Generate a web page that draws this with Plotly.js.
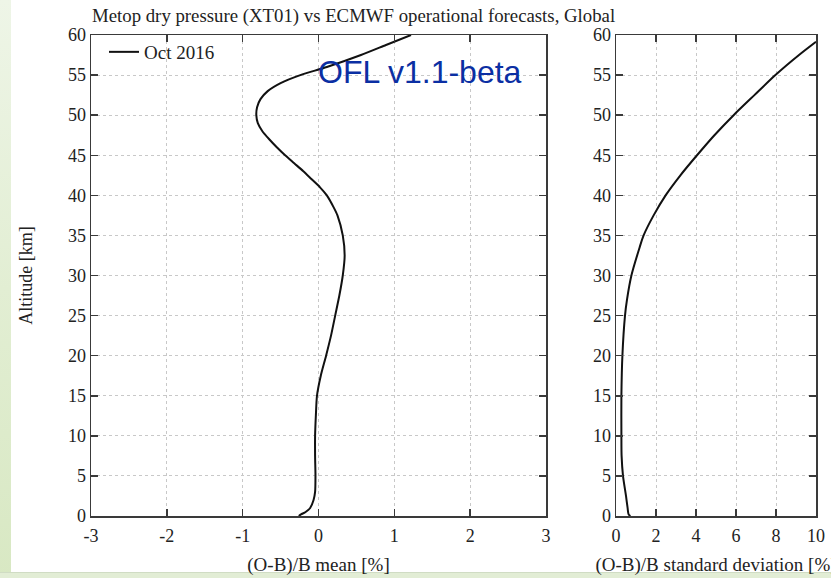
<!DOCTYPE html>
<html>
<head>
<meta charset="utf-8">
<script src="https://cdn.plot.ly/plotly-3.0.1.min.js"></script>
<style>
  html, body { margin: 0; padding: 0; background: #ffffff; }
  #wrap { position: relative; width: 831px; height: 578px; overflow: hidden; background: #ffffff; }
  #leftstrip { position: absolute; left: 0; top: 0; width: 11px; height: 578px;
    background: linear-gradient(to bottom, #eef5e7 0%, #e2eed3 50%, #d8e8c3 100%); }
  #bottomstrip { position: absolute; left: 0; top: 572px; width: 831px; height: 6px;
    background: #e2edd5; border-top: 1px solid #d0dcc4; }
  #chart { position: absolute; left: 0; top: 0; width: 831px; height: 578px; }
</style>
</head>
<body>
<div id="wrap">
  <div id="leftstrip"></div>
  <div id="bottomstrip"></div>
  <div id="chart"></div>
</div>
<script>
// Altitude levels [km] and (O-B)/B mean [%]
const meanAltitude = [0, 0.2, 0.5, 1, 2, 3, 5, 7.5, 10, 12.5, 15, 17.5, 20, 22.5, 25, 27.5, 30, 32.5, 35, 37.5, 38.5, 40, 41, 42, 43, 44, 45, 46, 47, 48, 49, 50, 51, 52, 53, 54, 55, 56, 57.5, 58.75, 60];
const meanValues   = [-0.26, -0.23, -0.17, -0.11, -0.065, -0.045, -0.04, -0.045, -0.045, -0.035, -0.02, 0.03, 0.1, 0.165, 0.22, 0.275, 0.32, 0.345, 0.32, 0.25, 0.2, 0.11, 0.02, -0.09, -0.2, -0.32, -0.44, -0.55, -0.65, -0.74, -0.8, -0.82, -0.81, -0.765, -0.67, -0.5, -0.24, 0.11, 0.56, 0.89, 1.22];

// Altitude levels [km] and (O-B)/B standard deviation [%]
const stdAltitude = [0, 0.2, 1, 2.5, 5, 7.5, 10, 15, 20, 25, 27, 30, 33.5, 35, 37.5, 40, 42.5, 45, 47.5, 50, 52.5, 55, 57.5, 59.15];
const stdValues   = [0.72, 0.63, 0.58, 0.5, 0.35, 0.28, 0.27, 0.27, 0.32, 0.45, 0.55, 0.77, 1.18, 1.38, 1.88, 2.48, 3.22, 4.05, 4.92, 5.88, 6.92, 7.97, 9.15, 10.0];

const seriesName = 'Oct 2016';
const meanTicks = [-3, -2, -1, 0, 1, 2, 3];
const meanTickText = ['-3', '-2', '-1', '0', '1', '2', '3'];
const stdTicks = [0, 2, 4, 6, 8, 10];
const altTicks = [0, 5, 10, 15, 20, 25, 30, 35, 40, 45, 50, 55, 60];

const serif = 'Liberation Serif, Times New Roman, serif';
const W = 831, H = 578;

const traces = [
  { x: meanValues, y: meanAltitude, type: 'scatter', mode: 'lines', name: seriesName,
    line: { color: '#111111', width: 2, shape: 'spline', smoothing: 0.7 },
    xaxis: 'x', yaxis: 'y', showlegend: true },
  { x: stdValues, y: stdAltitude, type: 'scatter', mode: 'lines', name: seriesName,
    line: { color: '#111111', width: 2, shape: 'spline', smoothing: 0.7 },
    xaxis: 'x2', yaxis: 'y2', showlegend: false }
];

function axisBase() {
  return {
    showline: true, linecolor: '#3a3a3a', linewidth: 1.5, mirror: 'ticks',
    ticks: 'inside', ticklen: 7, tickwidth: 1.5, tickcolor: '#3a3a3a',
    showgrid: true, gridcolor: '#c8c8c8', gridwidth: 1, griddash: 'dot',
    zeroline: false, tickfont: { family: serif, size: 18, color: '#222' },
    automargin: false, fixedrange: true
  };
}

const yb = (H - 516) / H, yt = (H - 35) / H;
const titleFont = { family: serif, size: 19, color: '#222' };

const layout = {
  width: W, height: H,
  paper_bgcolor: 'rgba(0,0,0,0)', plot_bgcolor: '#ffffff',
  margin: { l: 0, r: 0, t: 0, b: 0 },
  title: { text: 'Metop dry pressure (XT01) vs ECMWF operational forecasts, Global',
    x: 92 / W, xanchor: 'left', y: (H - 15) / H, yanchor: 'middle',
    font: { family: serif, size: 18.8, color: '#222' } },
  xaxis: Object.assign(axisBase(), { domain: [91 / W, 546 / W], range: [-3, 3],
    tickvals: meanTicks, ticktext: meanTickText, ticklabelstandoff: 3,
    anchor: 'y', title: { text: '(O-B)/B mean [%]', font: titleFont, standoff: 12 } }),
  yaxis: Object.assign(axisBase(), { domain: [yb, yt], range: [0, 60], tickvals: altTicks,
    anchor: 'x', title: { text: 'Altitude [km]', font: { family: serif, size: 18, color: '#222' }, standoff: 30 } }),
  xaxis2: Object.assign(axisBase(), { domain: [616 / W, 816 / W], range: [0, 10], tickvals: stdTicks,
    ticklabelstandoff: 3,
    anchor: 'y2', title: { text: '(O-B)/B standard deviation [%]', font: titleFont, standoff: 12 } }),
  yaxis2: Object.assign(axisBase(), { domain: [yb, yt], range: [0, 60], tickvals: altTicks, anchor: 'x2' }),
  showlegend: true,
  legend: { x: 104 / W, y: (H - 33) / H, xanchor: 'left', yanchor: 'top',
    bgcolor: 'rgba(0,0,0,0)', borderwidth: 0,
    font: { family: serif, size: 19, color: '#222' } },
  annotations: [
    { text: 'OFL v1.1-beta', xref: 'paper', yref: 'paper', x: 316 / W, y: (H - 72) / H,
      xanchor: 'left', yanchor: 'middle', showarrow: false,
      font: { family: 'Liberation Sans, Arial, sans-serif', size: 32, color: '#0b2fa3' } }
  ]
};

Plotly.newPlot('chart', traces, layout, { staticPlot: true, displayModeBar: false });
</script>
</body>
</html>
